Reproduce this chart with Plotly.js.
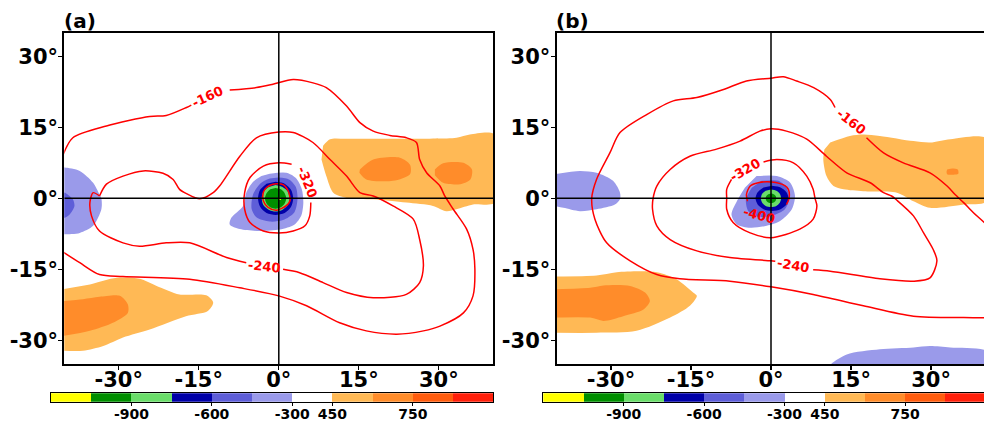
<!DOCTYPE html>
<html><head><meta charset="utf-8">
<script src="https://cdn.plot.ly/plotly-3.0.1.min.js"></script>
<style>html,body{margin:0;padding:0;background:#fff}#chart{width:984px;height:421px}</style>
</head><body><div id="chart"></div>
<script>
// ---------- colour levels (shared colour bar) ----------
const levels = [-1200,-1050,-900,-750,-600,-450,-300,450,600,750,900,1050];
const levelColors = ['#ffff00','#008f00','#6add6a','#0000a8','#5e5ed8','#9a9aea','#ffffff','#ffb955','#ff8c2a','#ff5c0e','#ff1f0a'];
const cbLabels = [-900,-600,-300,450,750];
const xTicks = [-30,-15,0,15,30];
const yTicks = [-30,-15,0,15,30];

// ---------- panel (a): red contour lines ----------
const a160_1_lon = [-40.5,-38.6,-32.3,-24.2,-21.1,-17.3,-16.4];
const a160_1_lat = [9.0,12.8,15.3,17.3,17.5,19.2,19.7];
const a160_2_lon = [-9.2,-4.2,-1.1,2.7,6.4,8.9,12.7,15.2,17.7,20.8,23.9,25.8,26.4,27.7,30.2,31.1,32.7,35.2,36.4,36.75,36.4,34.6,30.2,27.1,22.1,16.4,11.4,5.2,0,-7.3,-16.7,-29.2,-33.6,-37.3,-40.5];
const a160_2_lat = [22.9,23.4,24.1,25.1,24.4,23.4,19.5,16.0,14.2,13.3,12.8,11.8,8.2,5.4,2.6,0.5,-2.3,-6.5,-10.8,-15.0,-20.6,-24.2,-27.0,-28.0,-28.7,-28.0,-26.3,-22.7,-20.6,-18.9,-17.1,-16.5,-16.1,-13.6,-11.3];
const a240_1_lon = [-33.6,-32.3,-29.2,-25.4,-21.7,-19.8,-18.6,-17.3,-14.8,-12.3,-11.1,-7.3,-4.2,0,2.7,6.4,9.6,12.7,15.2,17.7,21.4,25.2,26.4,27.1,26.4,23.9,17.7,12.7,8.3,3.9,0.8];
const a240_1_lat = [0.5,3.0,4.7,5.8,5.3,4.0,1.9,1.0,-0.1,1.2,2.6,8.9,12.8,14.0,13.9,11.8,8.2,4.7,1.2,0.5,-1.6,-4.4,-8.7,-14.3,-17.8,-20.3,-21.0,-19.9,-17.8,-15.7,-15.0];
const a240_2_lon = [-6.1,-9.8,-16.7,-21.1,-26.1,-29.2,-33.6,-35.1,-35.4,-34.8,-33.6];
const a240_2_lat = [-13.6,-12.5,-9.4,-9.4,-10.1,-9.4,-6.9,-3.7,-0.9,1.2,0.5];
const a320_lon = [2.4,0,-2.9,-5.4,-6.4,-6.4,-5.4,-2.9,0,2.7,4.9,5.8,6.0];
const a320_lat = [7.2,7.5,6.8,4.4,1.2,-2.3,-5.1,-6.9,-7.3,-6.9,-5.8,-3.7,-0.9];
const a400_lon = [-2.3,-1.1,0.8,1.75,2.1,1.4,-0.4,-2.0,-2.9,-2.9,-2.3];
const a400_lat = [2.3,3.0,2.9,1.6,-0.5,-1.55,-2.5,-1.9,-0.5,1.3,2.3];

// ---------- panel (a): shaded areas ----------
const aLB_lon = [-1.7,1.4,3.2,4.3,4.6,4.2,2.9,0.2,-3.6,-7.3,-9.2,-8.9,-6.7,-6.1,-4.8,-3.25];
const aLB_lat = [5.2,5.4,4.3,2.0,-0.9,-3.7,-5.6,-6.6,-6.9,-6.5,-5.5,-4.1,-1.6,1.2,3.5,4.7];
const aMB_lon = [-0.1,1.9,3.2,3.5,2.9,0.8,-1.7,-4.2,-5.1,-4.8,-3.4,-1.7];
const aMB_lat = [4.4,4.0,2.4,-0.2,-3.0,-4.6,-4.9,-4.0,-2.2,0.9,3.2,4.2];
const aDB_lon = [-0.6,1.1,2.3,2.7,2.3,1.1,-0.6,-2.3,-3.5,-3.9,-3.5,-2.3];
const aDB_lat = [3.5,3.1,1.8,0,-1.8,-3.1,-3.5,-3.1,-1.8,0,1.8,3.1];
const aLG_lon = [-0.6,0.7,1.7,2.0,1.7,0.7,-0.6,-1.9,-2.9,-3.2,-2.9,-1.9];
const aLG_lat = [2.8,2.4,1.4,0,-1.4,-2.4,-2.8,-2.4,-1.4,0,1.4,2.4];
const aDG_lon = [-0.6,0.4,1.1,1.4,1.1,0.4,-0.6,-1.6,-2.3,-2.6,-2.3,-1.6];
const aDG_lat = [2.2,1.9,1.1,0,-1.1,-1.9,-2.2,-1.9,-1.1,0,1.1,1.9];
const aY_lon = [0.0,0.4,0.4,0.0];
const aY_lat = [0.1,0.1,-0.3,-0.3];
const aLBw_lon = [-40.5,-40.1,-37.3,-34.8,-33.6,-33.25,-33.25,-34.8,-37.3,-40.1,-40.5];
const aLBw_lat = [6.5,6.5,5.8,3.3,0.8,0,-2.3,-5.8,-7.3,-7.6,-7.6];
const aMBw_lon = [-40.5,-40.1,-38.6,-38.3,-39.2,-40.1,-40.5];
const aMBw_lat = [1.2,1.2,-0.2,-1.6,-3.4,-4.1,-4.1];
const aLOe_lon = [8.3,9.6,12.7,23.9,33.3,35.8,40.5,40.5,36.4,33.3,31.4,28.9,23.9,17.7,12.7,10.2,8.9,8.0];
const aLOe_lat = [11.1,12.5,12.6,12.6,12.8,13.5,13.5,-0.9,-1.3,-2.3,-2.7,-1.6,-0.9,-0.2,0.1,1.2,4.7,8.2];
const aOe1_lon = [15.2,17.7,22.7,24.6,24.6,21.4,16.4,15.1];
const aOe1_lat = [6.1,8.2,8.6,7.1,5.1,3.7,4.0,5.4];
const aOe2_lon = [29.25,30.8,34.6,36.2,35.9,34.0,30.8,29.25];
const aOe2_lat = [6.1,7.4,7.5,6.1,4.0,3.0,3.3,4.9];
const aLOsw_lon = [-40.5,-35.4,-30.4,-26.1,-22.9,-18.6,-13.6,-12.3,-13.3,-17.4,-24.2,-29.2,-32.9,-36.7,-40.5];
const aLOsw_lat = [-19.2,-18.2,-16.8,-17.0,-18.5,-20.3,-20.5,-22.0,-23.8,-24.9,-27.7,-29.4,-31.2,-32.2,-32.2];
const aOsw_lon = [-40.5,-36.7,-33.6,-29.8,-28.3,-28.3,-31.1,-35.4,-40.5];
const aOsw_lat = [-21.7,-21.3,-20.8,-20.6,-22.4,-24.2,-26.3,-28.0,-29.1];

// ---------- panel (b): red contour lines ----------
const b160_1_lon = [12.0,11.1,8.0,4.8,2.3,0,-4.6,-8.9,-13.9,-18.3,-23.3,-28.3,-30.2,-32.7,-33.6,-33.0,-30.8,-26.4,-21.4,-17.1,-7.7,0,7.9,17.3,26.7,36.1,40.5];
const b160_1_lat = [19.2,20.9,23.4,24.8,25.7,25.4,24.8,23.0,21.3,20.6,17.7,13.9,9.6,4.0,0,-4.4,-9.4,-13.2,-16.1,-17.0,-17.5,-18.7,-20.3,-22.7,-24.9,-25.2,-25.2];
const b160_2_lon = [17.9,21.1,24.8,29.8,33.0,34.5,36.1,37.9,40.5];
const b160_2_lat = [12.8,9.6,7.5,5.4,2.6,0.8,-0.9,-3.0,-5.6];
const b240_lon = [7.9,11.1,20.4,26.7,29.8,31.1,30.4,28.6,26.7,23.6,22.6,21.1,18.6,14.2,10.4,6.7,2.9,0,-2.1,-5.8,-10.2,-15.2,-18.9,-21.4,-22.1,-22.2,-21.4,-18.9,-13.9,-7.7,0,0.8];
const b240_lat = [-15.1,-15.4,-17.0,-17.5,-16.8,-13.2,-10.8,-7.3,-3.7,-0.4,0.5,1.2,3.3,5.4,8.9,12.5,14.2,14.7,14.2,12.1,10.4,8.9,6.1,2.6,0,-2.3,-5.8,-8.7,-11.1,-12.5,-13.2,-13.3];
const b320_lon = [-1.4,1.1,4.2,6.7,7.9,8.25,8.6,7.9,5.4,0,-3.9,-7.1,-8.3,-8.3,-8.3,-7.4];
const b320_lat = [7.7,8.2,7.5,4.7,1.9,0,-1.6,-4.4,-6.5,-8.3,-7.3,-5.1,-2.3,0,1.9,4.0];
const b400_lon = [2.9,3.4,3.25,2.6,0.1,-2.4,-3.9,-4.6,-4.4];
const b400_lat = [-1.3,0.1,1.9,2.7,3.45,3.3,2.6,0.8,-0.6];

// ---------- panel (b): shaded areas ----------
const bLB_lon = [-2.7,1.1,3.6,4.5,3.9,1.7,-0.8,-3.9,-6.4,-7.4,-6.4,-4.9];
const bLB_lat = [4.7,4.7,3.3,0.5,-2.3,-4.8,-5.8,-6.2,-5.5,-3.4,-0.6,2.25];
const bMB_lon = [-1.75,1.4,2.9,3.4,2.6,0.4,-2.4,-4.25,-4.7,-3.6];
const bMB_lat = [3.7,3.7,2.25,-0.2,-2.3,-3.6,-3.9,-2.7,-0.2,2.25];
const bDB_lon = [0.2,1.8,2.9,3.3,2.9,1.8,0.2,-1.4,-2.5,-2.9,-2.5,-1.4];
const bDB_lat = [2.65,2.3,1.3,0,-1.3,-2.3,-2.65,-2.3,-1.3,0,1.3,2.3];
const bLG_lon = [0,1.0,1.65,1.9,1.65,1.0,0,-1.0,-1.65,-1.9,-1.65,-1.0];
const bLG_lat = [1.85,1.6,0.95,0,-0.95,-1.6,-1.85,-1.6,-0.95,0,0.95,1.6];
const bDG_lon = [0,0.5,0.87,1.0,0.87,0.5,0,-0.5,-0.87,-1.0,-0.87,-0.5];
const bDG_lat = [1.0,0.87,0.5,0,-0.5,-0.87,-1.0,-0.87,-0.5,0,0.5,0.87];
const bLBw_lon = [-40.5,-35.8,-32.7,-29.6,-28.3,-28.3,-29.25,-32.7,-35.8,-38.9,-40.5];
const bLBw_lat = [5.1,5.8,5.4,3.7,1.2,-0.2,-1.3,-2.3,-2.7,-2.0,-1.6];
const bLBse_lon = [11.0,14.2,20.4,26.7,29.8,33.6,40.5,40.5,11.0];
const bLBse_lat = [-35.5,-33.0,-31.9,-31.5,-31.2,-31.5,-32.3,-35.5,-35.5];
const bLOe_lon = [11.1,14.8,17.3,20.4,26.7,29.8,33.6,40.5,40.5,36.1,29.8,26.7,23.6,17.3,13.6,11.7,10.4,9.8,10.0];
const bLOe_lat = [11.8,13.2,13.5,13.2,12.1,11.8,12.5,12.6,-0.6,-1.3,-2.0,-0.6,1.2,1.5,1.9,2.6,4.7,8.2,10.3];
const bOe_lon = [33.0,34.0,35.0,35.1,34.0,33.0,32.9];
const bOe_lat = [6.1,6.3,6.1,5.2,5.0,5.1,5.6];
const bLOsw_lon = [-40.5,-32.7,-28.9,-21.4,-17.7,-14.6,-13.9,-15.2,-18.9,-25.2,-32.7,-40.5];
const bLOsw_lat = [-16.5,-16.3,-15.6,-15.6,-17.1,-19.9,-20.6,-22.7,-25.2,-28.0,-28.4,-28.4];
const bOsw_lon = [-40.5,-33.9,-31.4,-26.4,-23.6,-22.7,-23.9,-27.7,-31.4,-33.9,-40.5];
const bOsw_lat = [-19.2,-18.9,-18.4,-18.5,-19.9,-21.7,-23.5,-24.9,-25.9,-25.2,-25.2];

// ---------- contour labels ----------
const aLabels = [['-160',-13.3,21.6,-25],['-240',-2.7,-14.3,6],['-320',5.4,3.4,68]];
const bLabels = [['-160',15.0,16.2,38],['-240',4.3,-14.2,10],['-320',-4.7,6.0,-30],['-400',-2.1,-3.6,15]];

// ================= build =================
const col = i => levelColors[i];
const traces = [];
function fillT(lon,lat,c,ax,ay){
  traces.push({type:'scatter',mode:'lines',x:lon,y:lat,xaxis:ax,yaxis:ay,fill:'toself',fillcolor:c,
    line:{width:0,shape:'spline',smoothing:0.8},hoverinfo:'skip',showlegend:false});
}
function lineT(lon,lat,ax,ay){
  traces.push({type:'scatter',mode:'lines',x:lon,y:lat,xaxis:ax,yaxis:ay,
    line:{width:1.5,color:'#ff0000',shape:'spline',smoothing:0.8},hoverinfo:'skip',showlegend:false});
}
// panel a fills
fillT(aLOe_lon,aLOe_lat,col(7),'x','y');
fillT(aOe1_lon,aOe1_lat,col(8),'x','y');
fillT(aOe2_lon,aOe2_lat,col(8),'x','y');
fillT(aLOsw_lon,aLOsw_lat,col(7),'x','y');
fillT(aOsw_lon,aOsw_lat,col(8),'x','y');
fillT(aLBw_lon,aLBw_lat,col(5),'x','y');
fillT(aMBw_lon,aMBw_lat,col(4),'x','y');
fillT(aLB_lon,aLB_lat,col(5),'x','y');
fillT(aMB_lon,aMB_lat,col(4),'x','y');
fillT(aDB_lon,aDB_lat,col(3),'x','y');
fillT(aLG_lon,aLG_lat,col(2),'x','y');
fillT(aDG_lon,aDG_lat,col(1),'x','y');
fillT(aY_lon,aY_lat,col(0),'x','y');
lineT(a160_1_lon,a160_1_lat,'x','y');
lineT(a160_2_lon,a160_2_lat,'x','y');
lineT(a240_1_lon,a240_1_lat,'x','y');
lineT(a240_2_lon,a240_2_lat,'x','y');
lineT(a320_lon,a320_lat,'x','y');
lineT(a400_lon,a400_lat,'x','y');
// panel b fills
fillT(bLOe_lon,bLOe_lat,col(7),'x2','y2');
fillT(bOe_lon,bOe_lat,col(8),'x2','y2');
fillT(bLOsw_lon,bLOsw_lat,col(7),'x2','y2');
fillT(bOsw_lon,bOsw_lat,col(8),'x2','y2');
fillT(bLBw_lon,bLBw_lat,col(5),'x2','y2');
fillT(bLBse_lon,bLBse_lat,col(5),'x2','y2');
fillT(bLB_lon,bLB_lat,col(5),'x2','y2');
fillT(bMB_lon,bMB_lat,col(4),'x2','y2');
fillT(bDB_lon,bDB_lat,col(3),'x2','y2');
fillT(bLG_lon,bLG_lat,col(2),'x2','y2');
fillT(bDG_lon,bDG_lat,col(1),'x2','y2');
lineT(b160_1_lon,b160_1_lat,'x2','y2');
lineT(b160_2_lon,b160_2_lat,'x2','y2');
lineT(b240_lon,b240_lat,'x2','y2');
lineT(b320_lon,b320_lat,'x2','y2');
lineT(b400_lon,b400_lat,'x2','y2');

// colour bars (one bar per colour interval)
const segIdx = levelColors.map((c,i)=>i);
const cbTickPos = cbLabels.map(v=>levels.indexOf(v)-0.5);
['x3','x4'].forEach((ax,k)=>{
  traces.push({type:'bar',x:segIdx,y:levelColors.map(()=>1),width:1,xaxis:ax,yaxis:k?'y4':'y3',
    marker:{color:levelColors,line:{width:0}},hoverinfo:'skip',showlegend:false});
});

const W=984,H=421;
const px = v=>v/W, py = v=>(H-v)/H;
const tickFont = {family:'DejaVu Sans',size:21,color:'#000',weight:'bold'};
function mapX(dom,range,mirror){
  return {domain:dom,range:range,tickvals:xTicks,ticktext:xTicks.map(v=>v+'°'),ticks:'outside',ticklen:4,tickwidth:1.2,
    tickcolor:'#000',showline:true,mirror:mirror,linecolor:'#000',linewidth:2,showgrid:false,zeroline:false,tickfont:tickFont,
    ticklabelstandoff:-8,fixedrange:true};
}
function mapY(anchor,mirror){
  return {domain:[py(364),py(32.7)],range:[-35,35],anchor:anchor,tickvals:yTicks,ticktext:yTicks.map(v=>v+'°'),ticks:'outside',ticklen:4,
    tickwidth:1.2,tickcolor:'#000',showline:true,mirror:mirror,linecolor:'#000',linewidth:2,showgrid:false,zeroline:false,tickfont:tickFont,
    ticklabelstandoff:-4,fixedrange:true};
}
function cbX(dom,range,anchor){
  return {domain:dom,range:range,anchor:anchor,tickvals:cbTickPos,ticktext:cbLabels.map(String),ticks:'outside',ticklen:3,tickwidth:1,
    tickcolor:'#000',showline:true,mirror:true,linecolor:'#000',linewidth:1,showgrid:false,zeroline:false,
    tickfont:{family:'DejaVu Sans',size:14,color:'#000',weight:'bold'},ticklabelstandoff:-4,fixedrange:true};
}
function cbY(anchor){
  return {domain:[py(401.7),py(393.3)],range:[0,1],anchor:anchor,showticklabels:false,ticks:'',showline:true,mirror:true,
    linecolor:'#000',linewidth:1,showgrid:false,zeroline:false,fixedrange:true};
}
const annotations = [];
aLabels.forEach(l=>annotations.push({xref:'x',yref:'y',x:l[1],y:l[2],text:l[0],textangle:l[3],showarrow:false,
  font:{family:'DejaVu Sans',size:13,color:'#ff0000',weight:'bold'}}));
bLabels.forEach(l=>annotations.push({xref:'x2',yref:'y2',x:l[1],y:l[2],text:l[0],textangle:l[3],showarrow:false,
  font:{family:'DejaVu Sans',size:13,color:'#ff0000',weight:'bold'}}));
annotations.push({xref:'paper',yref:'paper',x:px(62),y:py(35),xanchor:'left',yanchor:'bottom',text:'(a)',showarrow:false,
  font:{family:'DejaVu Sans',size:20,color:'#000',weight:'bold'}});
annotations.push({xref:'paper',yref:'paper',x:px(554),y:py(35),xanchor:'left',yanchor:'bottom',text:'(b)',showarrow:false,
  font:{family:'DejaVu Sans',size:20,color:'#000',weight:'bold'}});

const cross = (xr,yr,x0,x1)=>[
  {type:'line',xref:xr,yref:yr,x0:0,x1:0,y0:-35,y1:35,layer:'above',line:{color:'#000',width:1.5}},
  {type:'line',xref:xr,yref:yr,x0:x0,x1:x1,y0:0,y1:0,layer:'above',line:{color:'#000',width:1.5}}];

const layout = {
  width:W,height:H,margin:{l:0,r:0,t:0,b:0},paper_bgcolor:'#fff',plot_bgcolor:'#fff',showlegend:false,bargap:0,
  xaxis:mapX([px(64.3),px(493.3)],[-40.2,40.2],true),
  yaxis:mapY('x',true),
  xaxis2:mapX([px(556.5),1],[-40.2,39.92],true),
  yaxis2:mapY('x2',false),
  xaxis3:cbX([px(51),px(493.3)],[-0.5,10.5],'y3'),
  yaxis3:cbY('x3'),
  xaxis4:cbX([px(543.3),1],[-0.5,10.46],'y4'),
  yaxis4:cbY('x4'),
  annotations:annotations,
  shapes:[...cross('x','y',-40.2,40.2),...cross('x2','y2',-40.2,39.92)]
};
layout.xaxis.anchor='y'; layout.xaxis2.anchor='y2';
Plotly.newPlot('chart',traces,layout,{staticPlot:true,displayModeBar:false});
</script></body></html>
